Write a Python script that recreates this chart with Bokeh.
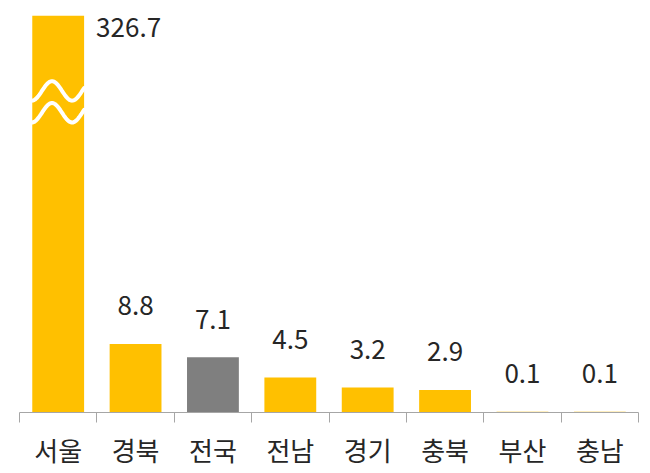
import numpy as np
from bokeh.plotting import figure
from bokeh.models import FixedTicker, Range1d, ColumnDataSource
from bokeh.core.properties import value
from bokeh.embed import file_html
from bokeh.resources import INLINE

# 데이터
지역 = ['서울', '경북', '전국', '전남', '경기', '충북', '부산', '충남']
값 = [326.7, 8.8, 7.1, 4.5, 3.2, 2.9, 0.1, 0.1]
색 = ['#FFC000', '#FFC000', '#7F7F7F', '#FFC000', '#FFC000', '#FFC000', '#FFC000', '#FFC000']

y_max = 51.0       # 축 상한 (서울은 물결 표시로 잘림)
폭 = 0.67
폰트 = "Noto Sans CJK KR"

x = [i + 0.5 for i in range(len(지역))]
top = [min(v, y_max) for v in 값]
잘림 = [v > y_max for v in 값]

p = figure(width=646, height=470, output_backend="svg", toolbar_location=None,
           x_range=Range1d(0, len(지역)), y_range=Range1d(0, y_max),
           min_border_left=19, min_border_right=8, min_border_top=15, min_border_bottom=57)
p.outline_line_color = None
p.xgrid.visible = False
p.ygrid.visible = False
p.yaxis.visible = False
p.background_fill_color = "white"

p.vbar(x=x, top=top, bottom=0, width=폭, color=색, line_color=None)

# 물결 (축 생략 표시)
for i, c in enumerate(잘림):
    if not c:
        continue
    xs = np.linspace(x[i] - 폭 / 2, x[i] + 폭 / 2, 60)
    for lvl in (0.81, 0.755):
        ys = y_max * lvl + 1.25 * np.sin(2 * np.pi * (xs - (x[i] - 0.21)) / 0.52)
        p.line(xs, ys, line_color="white", line_width=4, line_cap="round")

# 값 라벨
보통 = ColumnDataSource(dict(
    x=[x[i] for i in range(len(값)) if not 잘림[i]],
    y=[top[i] for i in range(len(값)) if not 잘림[i]],
    t=[f"{값[i]:.1f}" for i in range(len(값)) if not 잘림[i]]))
p.text(x="x", y="y", text="t", source=보통, text_align="center", text_baseline="alphabetic",
       y_offset=-38, text_font=value(폰트), text_font_size="26px", text_color="#262626")

큰값 = ColumnDataSource(dict(
    x=[x[i] + 폭 / 2 for i in range(len(값)) if 잘림[i]],
    y=[top[i] for i in range(len(값)) if 잘림[i]],
    t=[f"{값[i]:.1f}" for i in range(len(값)) if 잘림[i]]))
p.text(x="x", y="y", text="t", source=큰값, text_align="left", text_baseline="alphabetic",
       x_offset=12, y_offset=12, text_font=value(폰트), text_font_size="26px", text_color="#262626")

# x축: 라벨은 가운데, 눈금은 경계
ax = p.xaxis[0]
ax.ticker = FixedTicker(ticks=x, minor_ticks=list(range(len(지역) + 1)))
ax.major_label_overrides = {xx: n for xx, n in zip(x, 지역)}
ax.major_tick_out = 0
ax.major_tick_in = 0
ax.minor_tick_in = 0
ax.minor_tick_out = 10
ax.axis_line_color = "#A6A6A6"
ax.minor_tick_line_color = "#A6A6A6"
ax.major_label_standoff = 8
ax.major_label_text_font = 폰트
ax.major_label_text_font_size = "26px"
ax.major_label_text_color = "#262626"

open("out.html", "w").write(file_html(p, INLINE))
